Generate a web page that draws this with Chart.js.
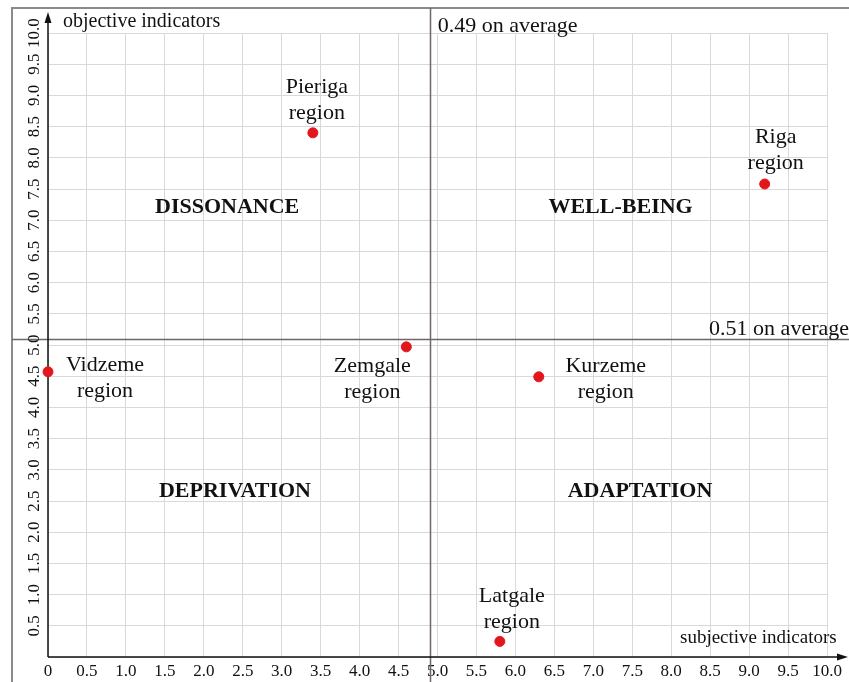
<!DOCTYPE html>
<html>
<head>
<meta charset="utf-8">
<script src="https://cdn.jsdelivr.net/npm/chart.js@4"></script>
<style>
  html, body { margin: 0; padding: 0; background: #fff; }
  #wrap { width: 849px; height: 682px; position: relative; }
</style>
</head>
<body>
<div id="wrap"><canvas id="qualityChart"></canvas></div>
<script>
// regions and their scores
const regionNames = ['Pieriga', 'Riga', 'Vidzeme', 'Zemgale', 'Kurzeme', 'Latgale'];
const subjectiveValues = [3.4, 9.2, 0.0, 4.6, 6.3, 5.8];
const objectiveValues = [8.4, 7.58, 4.57, 4.97, 4.49, 0.25];

const subjectiveAvg = 4.9;
const objectiveAvg = 5.1;

const xTickLabels = ['0', '0.5', '1.0', '1.5', '2.0', '2.5', '3.0', '3.5', '4.0', '4.5', '5.0',
  '5.5', '6.0', '6.5', '7.0', '7.5', '8.0', '8.5', '9.0', '9.5', '10.0'];
const yTickLabels = ['', '0.5', '1.0', '1.5', '2.0', '2.5', '3.0', '3.5', '4.0', '4.5', '5.0',
  '5.5', '6.0', '6.5', '7.0', '7.5', '8.0', '8.5', '9.0', '9.5', '10.0'];

const quadrantNames = ['DISSONANCE', 'WELL-BEING', 'DEPRIVATION', 'ADAPTATION'];

// label placement (pixels relative to each point)
const labelOffsets = [[4, -46], [11, -47], [57, -7], [-34, 19], [67, -11], [12, -45]];
const quadrantAnchors = [[2.3, 7.2], [7.35, 7.2], [2.4, 2.65], [7.6, 2.65]];

const serif = '"Liberation Serif", "Times New Roman", serif';

const decorations = {
  id: 'decorations',
  beforeDatasetsDraw(chart) {
    const { ctx, scales: { x, y } } = chart;
    ctx.save();
    // outer frame
    ctx.strokeStyle = '#8a8a8a';
    ctx.lineWidth = 2;
    ctx.beginPath();
    ctx.moveTo(12, 690);
    ctx.lineTo(12, 8);
    ctx.lineTo(860, 8);
    ctx.stroke();
    // average lines
    ctx.strokeStyle = '#6f6666';
    ctx.lineWidth = 1.5;
    const ax = Math.round(x.getPixelForValue(subjectiveAvg)) + 0.5;
    const ay = Math.round(y.getPixelForValue(objectiveAvg)) + 0.5;
    ctx.beginPath();
    ctx.moveTo(ax, 8);
    ctx.lineTo(ax, 690);
    ctx.moveTo(12, ay);
    ctx.lineTo(860, ay);
    ctx.stroke();
    // axes with arrows
    const x0 = x.getPixelForValue(0), y0 = y.getPixelForValue(0);
    ctx.strokeStyle = '#111';
    ctx.fillStyle = '#111';
    ctx.lineWidth = 1.5;
    ctx.beginPath();
    ctx.moveTo(x0, y0);
    ctx.lineTo(x0, 16);
    ctx.moveTo(x0, y0);
    ctx.lineTo(842, y0);
    ctx.stroke();
    ctx.beginPath();
    ctx.moveTo(x0, 12);
    ctx.lineTo(x0 - 3.5, 23);
    ctx.lineTo(x0 + 3.5, 23);
    ctx.closePath();
    ctx.fill();
    ctx.beginPath();
    ctx.moveTo(848, y0);
    ctx.lineTo(837, y0 - 3.5);
    ctx.lineTo(837, y0 + 3.5);
    ctx.closePath();
    ctx.fill();
    ctx.restore();
  },
  afterDraw(chart) {
    const { ctx, scales: { x, y } } = chart;
    ctx.save();
    ctx.fillStyle = '#111';
    // rotated y tick labels
    ctx.font = '17px ' + serif;
    ctx.textAlign = 'center';
    ctx.textBaseline = 'middle';
    y.ticks.forEach((t, i) => {
      if (!yTickLabels[i]) return;
      ctx.save();
      ctx.translate(35, y.getPixelForValue(t.value));
      ctx.rotate(-Math.PI / 2);
      ctx.fillText(yTickLabels[i], 0, 0);
      ctx.restore();
    });
    // axis titles and averages
    ctx.textAlign = 'left';
    ctx.textBaseline = 'alphabetic';
    ctx.font = '20px ' + serif;
    ctx.fillText('objective indicators', 63, 27);
    ctx.font = '19px ' + serif;
    ctx.fillText('subjective indicators', 680, 643);
    ctx.font = '22px ' + serif;
    ctx.fillText('0.49 on average', x.getPixelForValue(subjectiveAvg) + 8, 32);
    ctx.textAlign = 'right';
    ctx.fillText('0.51 on average', 849, y.getPixelForValue(objectiveAvg) - 4);
    // quadrant names
    ctx.textAlign = 'center';
    ctx.textBaseline = 'middle';
    ctx.font = 'bold 22px ' + serif;
    quadrantNames.forEach((q, i) => {
      ctx.fillText(q, x.getPixelForValue(quadrantAnchors[i][0]), y.getPixelForValue(quadrantAnchors[i][1]));
    });
    // region labels
    ctx.font = '22px ' + serif;
    regionNames.forEach((name, i) => {
      const px = x.getPixelForValue(subjectiveValues[i]) + labelOffsets[i][0];
      const py = y.getPixelForValue(objectiveValues[i]) + labelOffsets[i][1];
      ctx.fillText(name, px, py);
      ctx.fillText('region', px, py + 26);
    });
    ctx.restore();
  }
};

const ctx = document.getElementById('qualityChart').getContext('2d');

const qualityChart = new Chart(ctx, {
  type: 'scatter',
  data: {
    labels: regionNames,
    datasets: [{
      label: 'Regions',
      data: subjectiveValues.map((v, i) => ({ x: v, y: objectiveValues[i] })),
      backgroundColor: '#e3161d',
      borderColor: '#e3161d',
      pointRadius: 5,
      pointHoverRadius: 5,
      clip: false
    }]
  },
  options: {
    responsive: true,
    maintainAspectRatio: false,
    animation: false,
    layout: { padding: { left: 0, right: 22, top: 33, bottom: 0 } },
    plugins: {
      legend: { display: false },
      tooltip: { enabled: false }
    },
    scales: {
      x: {
        type: 'linear',
        min: 0,
        max: 10,
        afterFit: (s) => { s.height = 25; },
        border: { display: false },
        grid: { color: '#d9d9d9', drawTicks: false },
        ticks: {
          stepSize: 0.5,
          padding: 4,
          maxRotation: 0,
          autoSkip: false,
          color: '#111',
          font: { family: serif, size: 17 },
          callback: (v, i) => xTickLabels[i]
        }
      },
      y: {
        type: 'linear',
        min: 0,
        max: 10,
        afterFit: (s) => { s.width = 48; },
        border: { display: false },
        grid: { color: '#d9d9d9', drawTicks: false },
        ticks: {
          stepSize: 0.5,
          display: false
        }
      }
    }
  },
  plugins: [decorations]
});
</script>
</body>
</html>
